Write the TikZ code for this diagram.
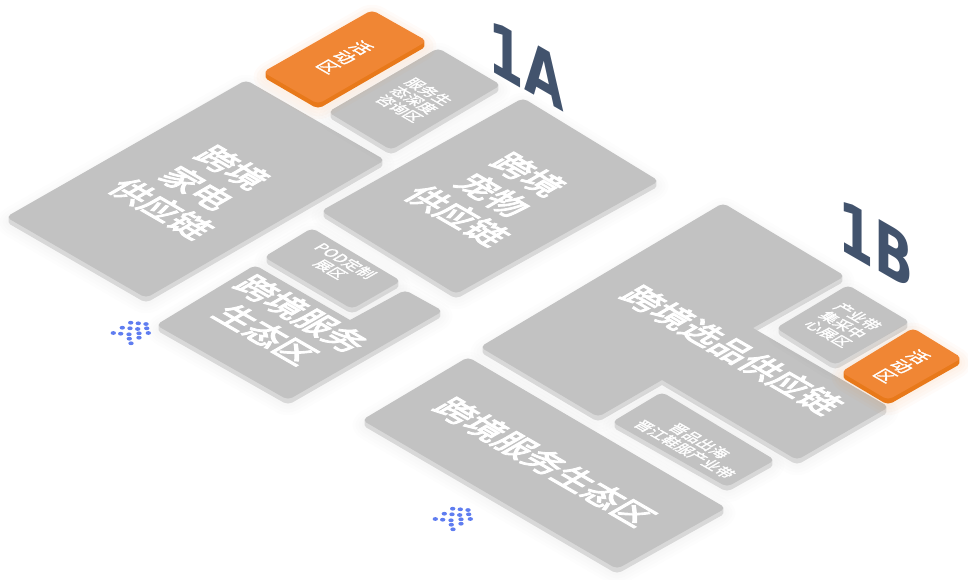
\documentclass[tikz,border=0pt]{standalone}
\usepackage{fontspec}
\usepackage{xcolor}
\usepackage{tikz}
\newfontfamily\zoneheavy{Noto Sans CJK SC}[FakeBold=3.5]
\newfontfamily\zonesoft{Noto Sans CJK SC}[FakeBold=1.5]
\newfontfamily\hallfont{DejaVu Sans}
\definecolor{zonegray}{HTML}{C2C2C2}
\definecolor{zoneedge}{HTML}{D8D8D8}
\definecolor{zoneorange}{HTML}{F08634}
\definecolor{zoneorangeedge}{HTML}{E8791A}
\definecolor{hallnavy}{HTML}{42536D}
\definecolor{dotblue}{HTML}{5F7DF0}
\tikzset{
  isotext/.style={cm={.866,-.5,.866,.5,(0,0)},text=white,inner sep=0pt,align=center},
  zonebig/.style={isotext,font=\zoneheavy\fontsize{34}{41}\selectfont},
  zonemid/.style={isotext,font=\zonesoft\fontsize{18}{19}\selectfont},
  zonesmall/.style={isotext,font=\zonesoft\fontsize{15.5}{17}\selectfont},
  hallmark/.style={cm={.72,-.416,0,1,(0,0)},text=hallnavy,inner sep=0pt,font=\hallfont\bfseries\fontsize{71}{71}\selectfont},
  grayglow/.style={draw=black,opacity=.008,line join=round},
  grayside/.style={fill=zoneedge},
  graytop/.style={fill=zonegray},
  orangeglow/.style={draw=zoneorange,opacity=.03,line join=round},
  orangeside/.style={fill=zoneorangeedge},
  orangetop/.style={fill=zoneorange}
}
\newcommand{\zonebox}[2][gray]{%
  \foreach \w in {6,12,18,24}{\draw[#1glow,line width=\w pt,yshift=-5pt,rounded corners=5pt] #2;}
  \foreach \s in {5,4,...,1}{\fill[#1side,yshift=-\s pt,rounded corners=5pt] #2;}
  \fill[#1top,rounded corners=5pt] #2;
}
\begin{document}
\begin{tikzpicture}[x=1pt,y=-1pt]
\useasboundingbox (0,0) rectangle (968,579);
% hall 1A
\zonebox{(246,80)--(385,160)--(146,298)--(6,217)--cycle}
\zonebox{(438,48)--(501,85)--(391,150)--(328,112)--cycle}
\zonebox[orange]{(372,10)--(427,41)--(318,104)--(263,72)--cycle}
\zonebox{(523,98)--(659,181)--(456,294)--(321,211)--cycle}
\zonebox{(312,228)--(401,281)--(352,309)--(264,257)--cycle}
\zonebox{(255,265)[sharp corners]--(350,320)[rounded corners=5pt]--(405,290)--(443,311)--(288,400)--(156,325)--cycle}
% hall 1B
\zonebox{(723,203)--(845,276)[sharp corners]--(753,328)[rounded corners=5pt]--(889,407)--(797,460)[sharp corners]--(662,380)[rounded corners=5pt]--(598,417)--(480,347)--cycle}
\zonebox{(848,285)--(910,322)--(835,365)--(776,328)--cycle}
\zonebox[orange]{(913,328)--(962,358)--(888,400)--(841,372)--cycle}
\zonebox{(662,392)--(775,460)--(727,487)--(612,422)--cycle}
\zonebox{(468,357)--(726,508)--(617,569)--(362,420)--cycle}
% labels
\node[zonebig] (jiadian) at (197,188) {跨境\\家电\\供应链};
\node[zonebig] (chongwu) at (493,195) {跨境\\宠物\\供应链};
\node[zonebig] (fuwuA) at (284,324) {跨境服务\\生态区};
\node[zonebig] (xuanpin) at (732,350) {跨境选品供应链};
\node[zonebig] (fuwuB) at (545,462) {跨境服务生态区};
\node[zonemid] (huodongA) at (345,57) {活\\动\\区};
\node[zonemid] (huodongB) at (902,366) {活\\动\\区};
\node[zonesmall] (zixun) at (414,100) {服务生\\态深度\\咨询区};
\node[zonesmall] (pod) at (338,265) {POD定制\\展区};
\node[zonesmall] (jicai) at (843,325) {产业带\\集采中\\心展区};
\node[zonesmall] (jinjiang) at (692,445) {晋品出海\\晋江鞋服产业带};
\node[hallmark] (hallA) at (526,65) {1A};
\node[hallmark] (hallB) at (876,244) {1B};
% dots
\foreach \ox/\oy in {0/0,322/186}{
  \foreach \dx/\dy in {130.7/322.7,138.3/323.3,146/324,122.3/327.7,130/328.3,137.7/329,146.7/328.3,113.3/333,120.7/333.7,129/334.3,139/333.3,148.3/333,129.3/338.7,139/337.7,131/343.3}{
    \fill[dotblue] (\ox+\dx,\oy+\dy) ellipse [x radius=2.7pt,y radius=1.9pt];
  }
}
\end{tikzpicture}
\end{document}
